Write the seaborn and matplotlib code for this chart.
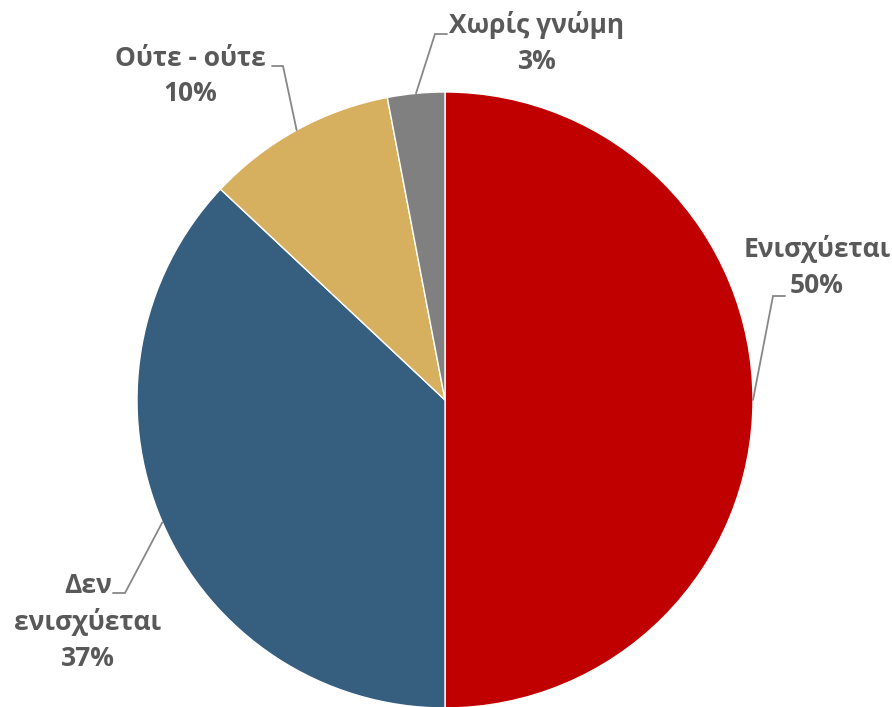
import numpy as np
import matplotlib
matplotlib.use("Agg")
import matplotlib.pyplot as plt
import seaborn as sns

# δεδομένα
categories = ["Ενισχύεται", "Δεν\nενισχύεται", "Ούτε - ούτε", "Χωρίς γνώμη"]
values = [50, 37, 10, 3]
colors = ["#C00000", "#365E7E", "#D6B05E", "#808080"]

sns.set_theme(style="white")
plt.rcParams['font.family'] = ['Open Sans', 'DejaVu Sans']

W, H = 892, 707
cx, cy, R = 445, 400, 308  # κέντρο και ακτίνα σε pixel


def px(x, y):
    return (x - cx) / R, (cy - y) / R


fig = plt.figure(figsize=(W / 100, H / 100), dpi=100)
ax = fig.add_axes([0, 0, 1, 1])
wedges, _ = ax.pie(values, colors=colors, startangle=90, counterclock=False,
                   wedgeprops=dict(edgecolor="white", linewidth=1))
ax.set_xlim(-cx / R, (W - cx) / R)
ax.set_ylim(-(H - cy) / R, cy / R)
ax.set_aspect("auto")
ax.axis("off")

# θέσεις ετικετών (σε pixel): γωνία γραμμής, άκρο γραμμής, κέντρο κειμένου
label_pos = [((773, 296), (785, 296), (817, 267)),
             ((125, 593), (113, 593), (88, 622)),
             ((283, 66), (272, 66), (190, 76)),
             ((435, 34), (447, 34), (537, 43))]

for w, cat, v, (elb, end, txt) in zip(wedges, categories, values, label_pos):
    ang = np.deg2rad((w.theta1 + w.theta2) / 2)
    a = (np.cos(ang), np.sin(ang))
    e = px(*elb)
    t = px(*end)
    ax.plot([a[0], e[0], t[0]], [a[1], e[1], t[1]], color="#878787", lw=1.3,
            solid_joinstyle="miter")
    tx, ty = px(*txt)
    ax.text(tx, ty, f"{cat}\n{v}%", ha="center", va="center", fontsize=19,
            fontweight="bold", color="#595959", linespacing=1.4)

fig.savefig("out.png", dpi=100)
